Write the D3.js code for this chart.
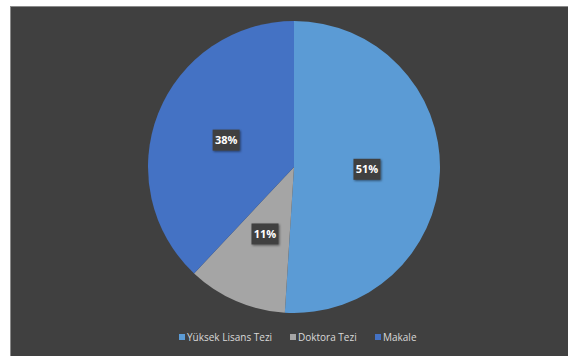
<!DOCTYPE html>
<html><head><meta charset="utf-8">
<script src="https://cdn.jsdelivr.net/npm/d3@7"></script>
<style>body{margin:0;background:#fff;}svg{display:block;}</style>
</head><body>
<svg id="c" width="568" height="356"></svg>
<script>
const categories = ["Yüksek Lisans Tezi", "Doktora Tezi", "Makale"];
const values = [51, 11, 38];
const labels = ["51%", "11%", "38%"];
const colors = ["#5B9BD5", "#A5A5A5", "#4472C4"];

const svg = d3.select("#c");
const defs = svg.append("defs");
const f = defs.append("filter").attr("id","sh").attr("x","-30%").attr("y","-30%").attr("width","160%").attr("height","160%");
f.append("feDropShadow").attr("dx",1).attr("dy",1).attr("stdDeviation",1).attr("flood-color","#000").attr("flood-opacity",0.5);

svg.append("rect").attr("x",10).attr("y",6).attr("width",558).attr("height",350).attr("fill","#404040");
svg.append("line").attr("x1",10).attr("x2",568).attr("y1",6.5).attr("y2",6.5).attr("stroke","#8a8a8a");
svg.append("line").attr("x1",10.5).attr("x2",10.5).attr("y1",6).attr("y2",356).attr("stroke","#8a8a8a");

const cx = 294, cy = 167, r = 146;
const pie = d3.pie().sort(null).value(d => d)(values);
const arc = d3.arc().innerRadius(0).outerRadius(r);
const g = svg.append("g").attr("transform", `translate(${cx},${cy})`);
g.selectAll("path").data(pie).join("path")
  .attr("d", arc).attr("fill", (d,i) => colors[i]);

const lab = d3.arc().innerRadius(r*0.5).outerRadius(r*0.5);
const lg = g.selectAll("g.lab").data(pie).join("g").attr("class","lab")
  .attr("transform", d => `translate(${lab.centroid(d)})`);
lg.append("rect").attr("x",-13.5).attr("y",-10.5).attr("width",27).attr("height",21)
  .attr("fill","#404040").attr("filter","url(#sh)");
lg.append("text").attr("text-anchor","middle").attr("dy","0.36em")
  .attr("fill","#fff").attr("font-family","'Open Sans', 'DejaVu Sans', sans-serif")
  .attr("font-weight","bold").attr("font-size","11px")
  .text((d,i) => labels[i]);

const legX = [179, 290, 375];
const leg = svg.append("g");
categories.forEach((c,i) => {
  leg.append("rect").attr("x", legX[i]).attr("y", 334).attr("width", 6).attr("height", 6).attr("fill", colors[i]);
  leg.append("text").attr("x", legX[i] + 8).attr("y", 337).attr("dy","0.35em")
    .attr("fill","#D9D9D9").attr("font-family","'Open Sans', 'DejaVu Sans', sans-serif")
    .attr("font-size","10px").text(c);
});
</script>
</body></html>
